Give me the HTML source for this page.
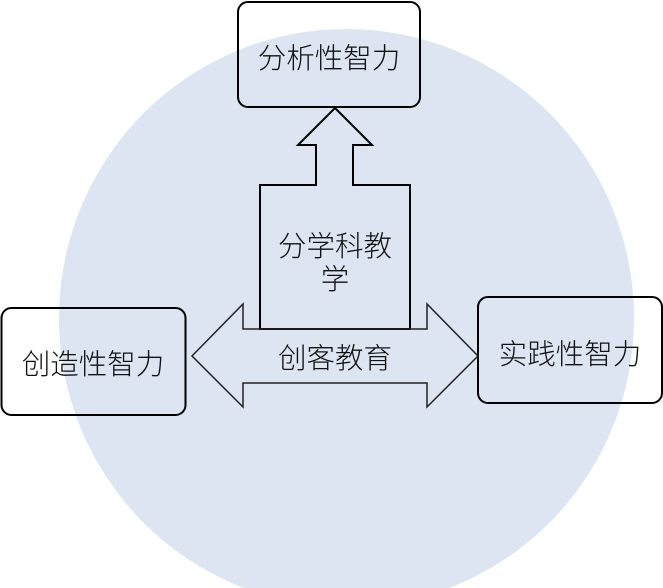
<!DOCTYPE html>
<html><head><meta charset="utf-8"><style>
html,body{margin:0;padding:0;background:#fff;}
svg{display:block;}
text{font-family:"Liberation Sans","Noto Sans CJK SC",sans-serif;font-size:28.5px;font-weight:300;fill:#111;}
</style></head><body>
<svg width="663" height="588" viewBox="0 0 663 588" xmlns="http://www.w3.org/2000/svg">
<ellipse cx="346.5" cy="318" rx="287.5" ry="289" fill="#dce5f1"/>
<rect x="238" y="2" width="182" height="105" rx="10" fill="none" stroke="#000" stroke-width="2"/>
<rect x="1.5" y="308" width="184" height="107" rx="10" fill="none" stroke="#000" stroke-width="2"/>
<rect x="478" y="297" width="184" height="106" rx="10" fill="none" stroke="#000" stroke-width="2"/>
<path d="M335,108 L372,145 L353,145 L353,185 L410,185 L410,329 L260,329 L260,185 L316,185 L316,145 L298,145 Z" fill="none" stroke="#000" stroke-width="2"/>
<path d="M192,356 L243,304 L243,329 L427,329 L427,304 L478,356 L427,407 L427,383 L243,383 L243,407 Z" fill="none" stroke="#222" stroke-width="1.5"/>
<text x="329" y="68" text-anchor="middle">分析性智力</text>
<text x="93" y="374" text-anchor="middle">创造性智力</text>
<text x="570" y="364" text-anchor="middle">实践性智力</text>
<text x="335" y="256" text-anchor="middle">分学科教</text>
<text x="335" y="289" text-anchor="middle">学</text>
<text x="335" y="368" text-anchor="middle">创客教育</text>
</svg>
</body></html>
